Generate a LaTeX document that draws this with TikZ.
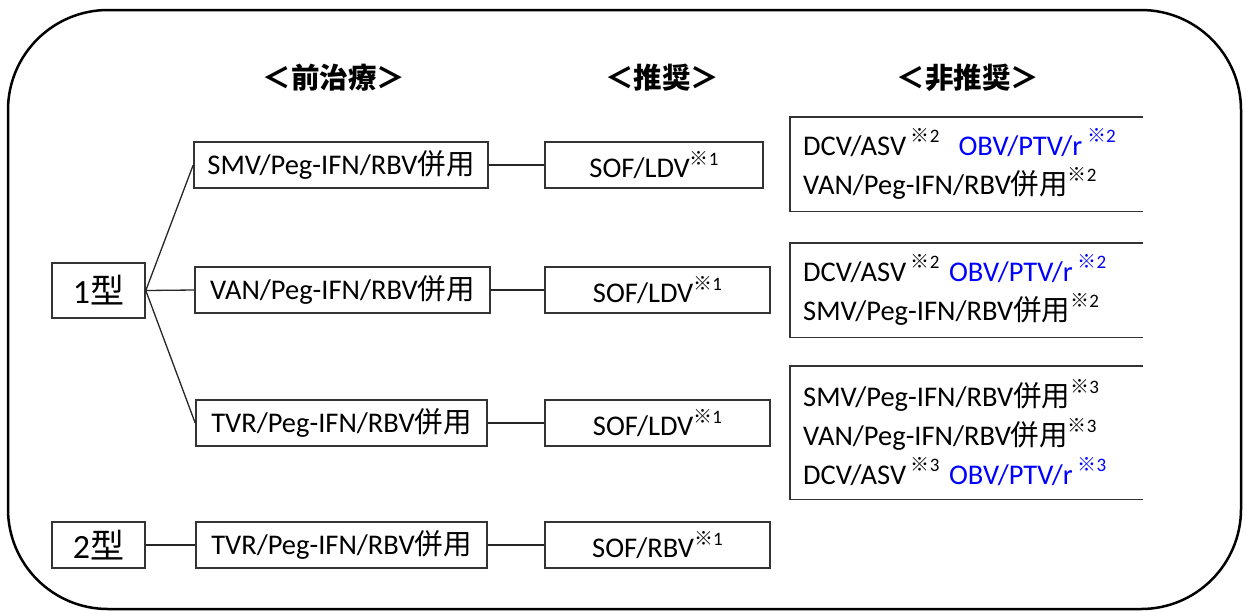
\documentclass[tikz,border=0pt]{standalone}
\usepackage{fontspec}
\setmainfont{Carlito}
\newfontfamily\jp{Noto Sans CJK JP}
\newcommand\kome[1]{\raisebox{0.45em}{\fontsize{19}{19}\selectfont{\jp ※}#1}}
\newcommand\hy{{\jp 併用}}
\begin{document}
\begin{tikzpicture}[x=1pt,y=-1pt,
  every node/.style={font=\fontsize{28.5}{39}\selectfont},
  box/.style={draw=black!80, line width=1.6pt, minimum height=46pt, inner sep=0pt},
  tbox/.style={box, font=\fontsize{34}{40}\selectfont},
  rbox/.style={anchor=north west, inner xsep=13pt, inner ysep=0pt, align=left, text width=327pt},
  edge/.style={line width=1.3pt, black!85},
  hdr/.style={font=\fontsize{28.5}{34}\selectfont\jp\bfseries}]
\useasboundingbox (0,0) rectangle (1246,611);
\draw[line width=2.5pt, rounded corners=100pt] (8,10) rectangle (1241,609);

\node[hdr] (h1) at (334,78) {＜前治療＞};
\node[hdr] (h2) at (662,78) {＜推奨＞};
\node[hdr] (h3) at (968,78) {＜非推奨＞};

\node[tbox, minimum width=93pt, minimum height=55pt] (t1) at (98.5,290.5) {1{\jp 型}};
\node[tbox, minimum width=93pt] (t2) at (98.5,545) {2{\jp 型}};

\node[box, minimum width=294pt] (p1) at (341,165) {SMV/Peg-IFN/RBV\hy};
\node[box, minimum width=295pt] (p2) at (342.5,290) {VAN/Peg-IFN/RBV\hy};
\node[box, minimum width=291pt] (p3) at (341.5,423) {TVR/Peg-IFN/RBV\hy};
\node[box, minimum width=291pt] (p4) at (341.5,545) {TVR/Peg-IFN/RBV\hy};

\node[box, minimum width=218pt] (r1) at (654,165) {SOF/LDV\kome{1}};
\node[box, minimum width=225pt] (r2) at (657.5,290) {SOF/LDV\kome{1}};
\node[box, minimum width=225pt] (r3) at (657.5,423) {SOF/LDV\kome{1}};
\node[box, minimum width=225pt] (r4) at (657.5,545) {SOF/RBV\kome{1}};

\node[rbox, minimum height=94pt] (n1) at (790,117) {DCV/ASV\,\kome{2}\ \ {\color{blue}OBV/PTV/r\,\kome{2}}\\VAN/Peg-IFN/RBV\hy\kome{2}};
\node[rbox, minimum height=94pt] (n2) at (790,243) {DCV/ASV\,\kome{2} {\color{blue}OBV/PTV/r\,\kome{2}}\\SMV/Peg-IFN/RBV\hy\kome{2}};
\node[rbox, minimum height=133pt] (n3) at (790,366) {SMV/Peg-IFN/RBV\hy\kome{3}\\VAN/Peg-IFN/RBV\hy\kome{3}\\DCV/ASV\,\kome{3} {\color{blue}OBV/PTV/r\,\kome{3}}};
\foreach \n in {n1,n2,n3}
  \draw[black!80, line width=1.6pt] (\n.north east) -- (\n.north west) -- (\n.south west) -- (\n.south east);

\draw[edge] (t1.east) -- (p1.west);
\draw[edge] (t1.east) -- (p2.west);
\draw[edge] (t1.east) -- (p3.west);
\draw[edge] (t2.east) -- (p4.west);
\draw[edge] (p1.east) -- (r1.west);
\draw[edge, line width=2pt] (p2.east) -- (r2.west);
\draw[edge] (p3.east) -- (r3.west);
\draw[edge] (p4.east) -- (r4.west);
\end{tikzpicture}
\end{document}
